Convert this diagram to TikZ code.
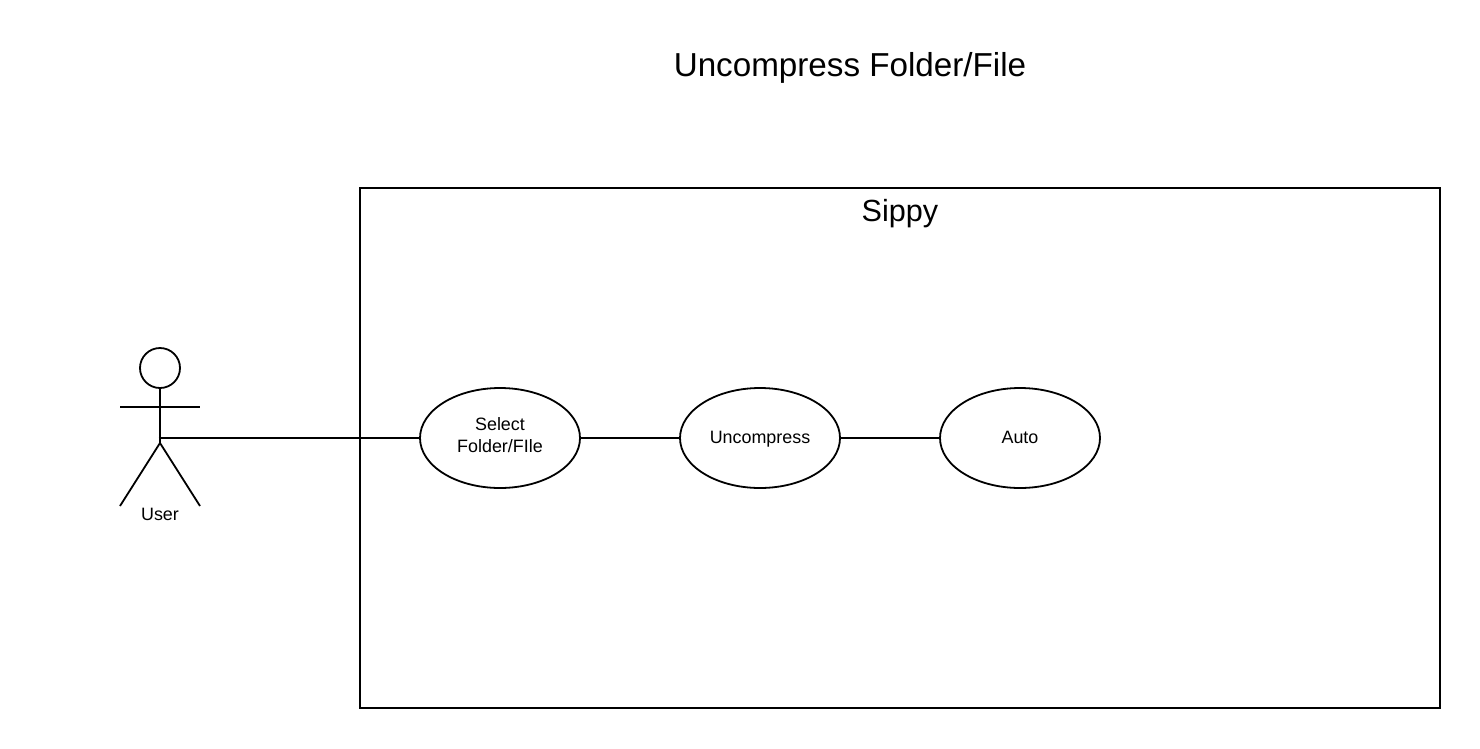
\documentclass[tikz,border=0pt]{standalone}
\usepackage{fontspec}
\setmainfont{Liberation Sans}
\usetikzlibrary{positioning, shapes.geometric, calc}

\begin{document}
\begin{tikzpicture}[
  x=1pt,y=-1pt,
  line width=1.8pt,
  usecase/.style={draw,ellipse,outer sep=0pt,minimum width=160pt,minimum height=100pt,inner sep=0pt,font=\fontsize{17.9}{21.5}\selectfont,align=center},
  systembox/.style={draw,outer sep=0pt,minimum width=1080pt,minimum height=520pt,inner sep=0pt},
  actorhead/.style={draw,circle,outer sep=0pt,minimum size=40pt,inner sep=0pt}
]
\useasboundingbox (0,0) rectangle (1480,748);

% ----- Title and system ----------------------------------------------------
\node[font=\fontsize{33.2}{40}\selectfont] (title) at (850,68) {Uncompress Folder/File};
\node[systembox] (sippy) at (900,448) {};
\node[font=\fontsize{30.6}{36}\selectfont] (sippylabel) at (900,214) {Sippy};

% ----- Use cases -----------------------------------------------------------
\node[usecase,text depth=6pt] (select) at (500,438) {Select\\Folder/FIle};
\node[usecase,text height=13pt,text depth=3pt,right=100pt of select.east,anchor=west] (uncompress) {Uncompress};
\node[usecase,text height=13pt,text depth=3pt,right=100pt of uncompress.east,anchor=west] (auto) {Auto};

% ----- Actor ---------------------------------------------------------------
\node[actorhead] (head) at (160,368) {};
\coordinate (hand) at (158.5,438);
\coordinate (hip) at (160,443);
\coordinate (armL) at (120,407);
\coordinate (armR) at (200,407);
\coordinate (footL) at (120,506);
\coordinate (footR) at (200,506);
\draw (head.south) -- (hip);
\draw (armL) -- (armR);
\draw (footL) -- (hip) -- (footR);
\node[font=\fontsize{17.9}{21.5}\selectfont] (user) at (160,514.5) {User};

% ----- Connectors ----------------------------------------------------------
\draw (hand) -- (select);
\draw (select) -- (uncompress);
\draw (uncompress) -- (auto);

\end{tikzpicture}
\end{document}
